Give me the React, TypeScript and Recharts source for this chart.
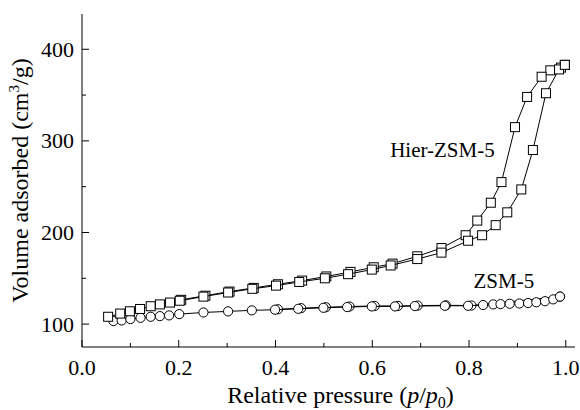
import React from "react"
import { ComposedChart, Scatter, XAxis, YAxis, Label, ReferenceDot } from "recharts"

const FONT = "Liberation Serif"

// Hier-ZSM-5, adsorption branch (relative pressure, volume cm3/g)
const hierAdsP = [0.054, 0.079, 0.099, 0.12, 0.142, 0.161, 0.182, 0.202, 0.251, 0.302, 0.352, 0.401, 0.449, 0.502, 0.55, 0.599, 0.638, 0.693, 0.743, 0.798, 0.827, 0.855, 0.879, 0.908, 0.932, 0.959, 0.986, 0.998]
const hierAdsV = [108, 111.5, 114, 116.5, 119.5, 121.5, 123.5, 125.5, 130, 134.5, 138.5, 142, 146, 150, 154.5, 159.5, 164, 171, 178, 191, 197, 208, 222, 247, 290, 352, 378, 383]

// Hier-ZSM-5, desorption branch
const hierDesP = [0.998, 0.99, 0.968, 0.95, 0.92, 0.895, 0.867, 0.845, 0.817, 0.793, 0.743, 0.693, 0.642, 0.603, 0.555, 0.505, 0.455, 0.405, 0.355, 0.305, 0.255, 0.205]
const hierDesV = [383, 380, 377, 370, 348, 315, 255, 232.5, 213, 197, 183, 174, 166, 162, 157, 152, 147.5, 143.5, 139.5, 135.5, 131, 126.5]

// ZSM-5, adsorption branch
const zsmAdsP = [0.065, 0.082, 0.1, 0.121, 0.142, 0.161, 0.18, 0.201, 0.251, 0.302, 0.351, 0.399, 0.447, 0.499, 0.548, 0.599, 0.647, 0.688, 0.75, 0.798, 0.829, 0.85, 0.865, 0.884, 0.904, 0.922, 0.939, 0.957, 0.974, 0.988]
const zsmAdsV = [103.3, 104, 105.5, 106.9, 108, 108.7, 109.5, 110.9, 112.7, 113.9, 115, 115.7, 116.7, 117.8, 118.6, 119.3, 119.3, 119.7, 120, 120, 120.8, 121.5, 121.8, 122.2, 122.5, 123, 123.8, 125, 127, 130]

// ZSM-5, desorption branch
const zsmDesP = [0.988, 0.805, 0.752, 0.694, 0.653, 0.605, 0.553, 0.504, 0.453, 0.405]
const zsmDesV = [130, 120.3, 120.5, 120.2, 119.8, 119.8, 119.2, 118.4, 117.4, 116.2]

const xTicks = [0, 0.1, 0.2, 0.3, 0.4, 0.5, 0.6, 0.7, 0.8, 0.9, 1.0]
const yTicks = [100, 150, 200, 250, 300, 350, 400]

const toPoints = (p: number[], v: number[]) => p.map((x, i) => ({ p: x, v: v[i] }))

const hierAds = toPoints(hierAdsP, hierAdsV)
const hierDes = toPoints(hierDesP, hierDesV)
const zsmAds = toPoints(zsmAdsP, zsmAdsV)
const zsmDes = toPoints(zsmDesP, zsmDesV)

const txt = { fontFamily: FONT, fill: "#000" }

const Square = (props: any) => {
  const { cx, cy } = props
  if (cx == null || cy == null) return null
  return <rect x={cx - 4.5} y={cy - 4.5} width={9} height={9} fill="#fff" stroke="#000" strokeWidth={1} />
}

const Circle = (props: any) => {
  const { cx, cy } = props
  if (cx == null || cy == null) return null
  return <circle cx={cx} cy={cy} r={4.6} fill="#fff" stroke="#000" strokeWidth={1} />
}

const isMajorX = (v: number) => Math.round(v * 10) % 2 === 0
const isMajorY = (v: number) => v % 100 === 0

// ticks point inward; minor ticks are shorter
const BottomTick = (props: any) => {
  const { x, y, payload } = props
  const major = isMajorX(payload.value)
  return (
    <g>
      <line x1={x} x2={x} y1={y} y2={y - (major ? 7 : 4)} stroke="#000" />
      {major && (
        <text x={x} y={y + 28} textAnchor="middle" fontSize={22} style={txt}>
          {payload.value.toFixed(1)}
        </text>
      )}
    </g>
  )
}

const TopTick = (props: any) => {
  const { x, y, payload } = props
  const major = isMajorX(payload.value)
  return <line x1={x} x2={x} y1={y} y2={y + (major ? 7 : 4)} stroke="#000" />
}

const LeftTick = (props: any) => {
  const { x, y, payload } = props
  const major = isMajorY(payload.value)
  return (
    <g>
      <line x1={x} x2={x + (major ? 7 : 4)} y1={y} y2={y} stroke="#000" />
      {major && (
        <text x={x - 8} y={y + 7.5} textAnchor="end" fontSize={22} style={txt}>
          {payload.value}
        </text>
      )}
    </g>
  )
}

const RightTick = (props: any) => {
  const { x, y, payload } = props
  const major = isMajorY(payload.value)
  return <line x1={x} x2={x - (major ? 7 : 4)} y1={y} y2={y} stroke="#000" />
}

const XTitle = (props: any) => {
  const vb = props.viewBox
  return (
    <text x={vb.x + vb.width / 2 + 12} y={403} textAnchor="middle" fontSize={24} style={txt}>
      Relative pressure (<tspan fontStyle="italic">p</tspan>/<tspan fontStyle="italic">p</tspan>
      <tspan fontSize={16} dy={5}>0</tspan>
      <tspan dy={-5}>)</tspan>
    </text>
  )
}

const YTitle = (props: any) => {
  const vb = props.viewBox
  const cy = vb.y + vb.height / 2
  return (
    <text x={28} y={cy} transform={`rotate(-90 28 ${cy})`} textAnchor="middle" fontSize={24} style={txt}>
      Volume adsorbed (cm<tspan fontSize={15} dy={-9}>3</tspan>
      <tspan dy={9}>/g)</tspan>
    </text>
  )
}

const axisLine = { stroke: "#000", strokeWidth: 1 }
const annotation = { position: "center" as const, fontSize: 21, fontFamily: FONT, fill: "#000" }

export default function App() {
  return (
    <div style={{ position: "absolute", left: 0, top: 0, width: 580, height: 410, background: "#fff", fontFamily: FONT }}>
      <ComposedChart width={580} height={410} margin={{ top: 14, right: 5, bottom: 0, left: 0 }}>
        <XAxis
          dataKey="p"
          type="number"
          domain={[0, 1.019]}
          ticks={xTicks}
          interval={0}
          allowDataOverflow
          height={63}
          axisLine={axisLine}
          tickLine={false}
          tickSize={0}
          tickMargin={0}
          tick={<BottomTick />}
        >
          <Label content={<XTitle />} />
        </XAxis>
        <XAxis
          xAxisId="top"
          orientation="top"
          type="number"
          domain={[0, 1.019]}
          ticks={xTicks}
          interval={0}
          allowDataOverflow
          height={0}
          axisLine={axisLine}
          tickLine={false}
          tickSize={0}
          tickMargin={0}
          tick={<TopTick />}
        />
        <YAxis
          dataKey="v"
          type="number"
          domain={[75, 438.5]}
          ticks={yTicks}
          interval={0}
          allowDataOverflow
          width={82}
          axisLine={axisLine}
          tickLine={false}
          tickSize={0}
          tickMargin={0}
          tick={<LeftTick />}
        >
          <Label content={<YTitle />} />
        </YAxis>
        <YAxis
          yAxisId="right"
          orientation="right"
          type="number"
          domain={[75, 438.5]}
          ticks={yTicks}
          interval={0}
          allowDataOverflow
          width={0}
          axisLine={axisLine}
          tickLine={false}
          tickSize={0}
          tickMargin={0}
          tick={<RightTick />}
        />
        <Scatter data={zsmDes} line={{ stroke: "#000", strokeWidth: 1 }} shape={<Circle />} isAnimationActive={false} />
        <Scatter data={zsmAds} line={{ stroke: "#000", strokeWidth: 1 }} shape={<Circle />} isAnimationActive={false} />
        <Scatter data={hierDes} line={{ stroke: "#000", strokeWidth: 1 }} shape={<Square />} isAnimationActive={false} />
        <Scatter data={hierAds} line={{ stroke: "#000", strokeWidth: 1 }} shape={<Square />} isAnimationActive={false} />
        <ReferenceDot x={0.745} y={290} r={0} fill="none" stroke="none" label={{ value: "Hier-ZSM-5", ...annotation }} />
        <ReferenceDot x={0.872} y={148} r={0} fill="none" stroke="none" label={{ value: "ZSM-5", ...annotation }} />
      </ComposedChart>
    </div>
  )
}
